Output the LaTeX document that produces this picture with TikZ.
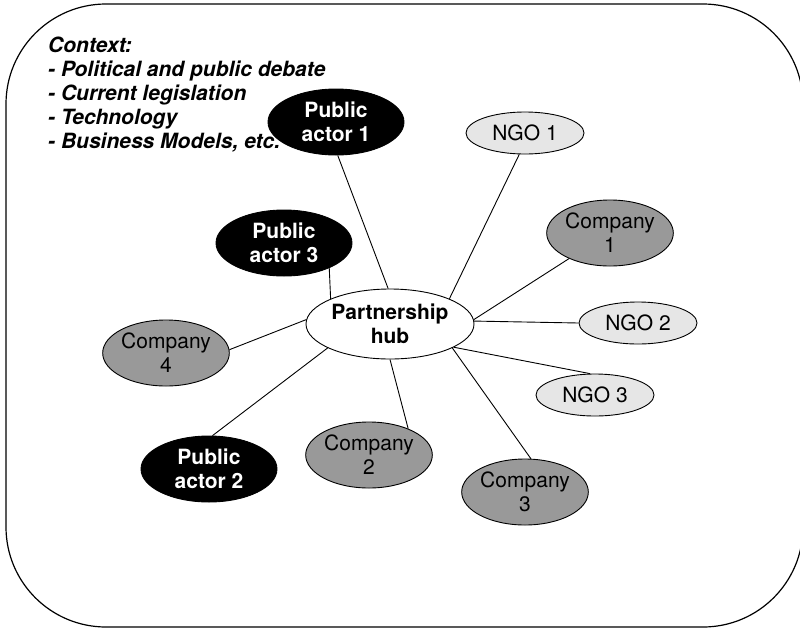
\documentclass[tikz,border=0pt]{standalone}
\usepackage{fontspec}
\setmainfont{TeX Gyre Heros}
\usetikzlibrary{shapes.geometric}
\definecolor{companygray}{HTML}{999999}
\definecolor{ngogray}{HTML}{E6E6E6}
\begin{document}
\begin{tikzpicture}[x=1pt,y=-1pt,
  basefont/.style={font=\fontsize{21}{24}\selectfont},
  actor/.style={ellipse,draw,inner sep=0pt,align=center,line width=0.9pt,basefont},
  hubnode/.style={actor,fill=white,font=\fontsize{21}{24}\selectfont\bfseries,
    minimum width=168pt,minimum height=70pt},
  public/.style={actor,fill=black,text=white,font=\fontsize{21}{24}\selectfont\bfseries,
    minimum width=136pt,minimum height=66pt},
  company/.style={actor,fill=companygray,minimum width=120pt,minimum height=66pt},
  ngo/.style={actor,fill=ngogray,minimum width=118pt,minimum height=42pt},
  link/.style={line width=0.9pt}]

\useasboundingbox (0,0) rectangle (800,630);
% outer frame
\draw[line width=1.2pt, rounded corners=100pt] (6,4) rectangle (803,627);

% actors
\node[hubnode] (hub) at (390,324) {Partnership\\hub};
\node[public] (pa1) at (336,122) {Public\\actor 1};
\node[public] (pa3) at (284,243) {Public\\actor 3};
\node[public] (pa2) at (209,469) {Public\\actor 2};
\node[ngo] (ngo1) at (525,133) {NGO 1};
\node[ngo] (ngo2) at (638,323) {NGO 2};
\node[ngo] (ngo3) at (595,395) {NGO 3};
\node[company] (c1) at (610,233) {Company\\1};
\node[company] (c2) at (369,455) {Company\\2};
\node[company] (c3) at (525,492) {Company\\3};
\node[company] (c4) at (166,353) {Company\\4};

% spokes from the hub
\draw[link] (hub.93) -- (pa1.-87);
\draw[link] (hub.157) -- (pa3.-29);
\draw[link] (hub.177) -- (c4.3);
\draw[link] (hub.201) -- (pa2.84);
\draw[link] (hub.-90) -- (c2.34);
\draw[link] (hub.-21) -- (c3.80);
\draw[link] (hub.-20) -- (ngo3.103);
\draw[link] (hub.2) -- (ngo2.180);
\draw[link] (hub.3) -- (c1.212);
\draw[link] (hub.23) -- (ngo1.-105);

% context list
\node[anchor=north west, align=left, inner sep=0pt,
  font=\fontsize{21}{24}\selectfont\bfseries\itshape] (context) at (48,37)
  {Context:\\- Political and public debate\\- Current legislation\\- Technology\\- Business Models, etc.};
\end{tikzpicture}
\end{document}
